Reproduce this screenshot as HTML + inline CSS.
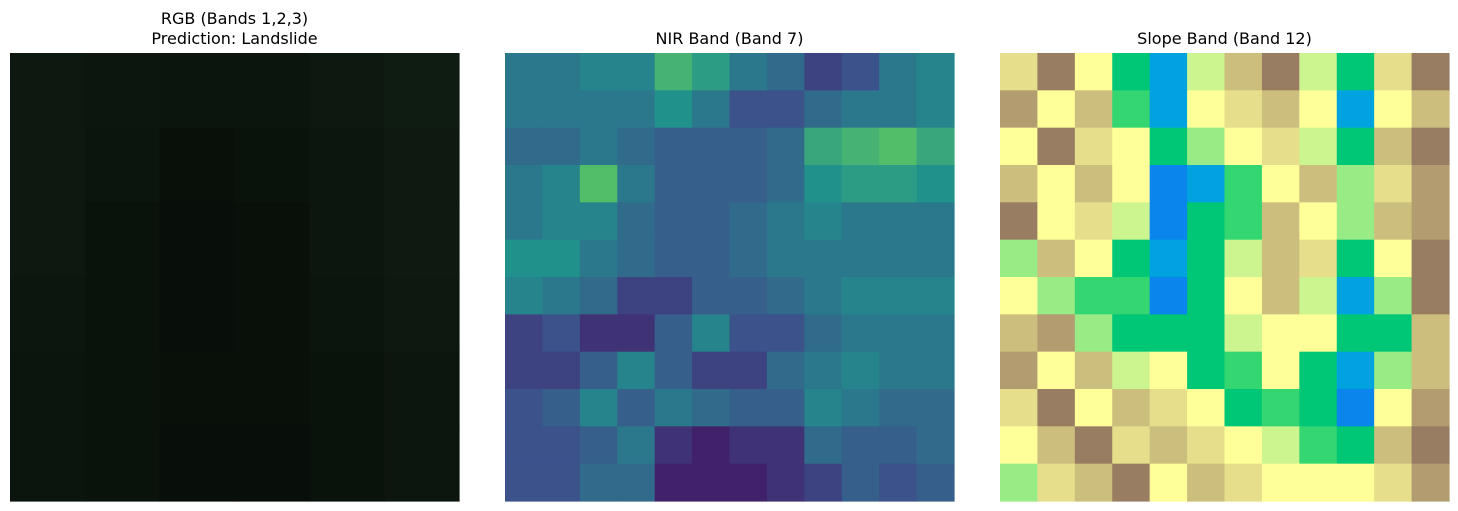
<!DOCTYPE html>
<html><head><meta charset="utf-8"><style>
body{margin:0;background:#fff;width:1458px;height:511px;overflow:hidden;font-family:"DejaVu Sans","Liberation Sans",sans-serif;}
svg{display:block}
</style></head><body>
<svg id="fig" width="1458" height="511">
<text x="234.5" y="24" font-size="16" text-anchor="middle" fill="#000">RGB (Bands 1,2,3)</text>
<text x="234.5" y="44" font-size="16" text-anchor="middle" fill="#000">Prediction: Landslide</text>
<text x="729.5" y="44" font-size="16" text-anchor="middle" fill="#000">NIR Band (Band 7)</text>
<text x="1224.5" y="44" font-size="16" text-anchor="middle" fill="#000">Slope Band (Band 12)</text>
<g id="p1"></g>
<g id="p2"></g>
<g id="p3"></g>
</svg>
<script>
const rgbValues=[
[0.12,0.11,0.10,0.10,0.12,0.14],
[0.12,0.10,0.08,0.09,0.11,0.13],
[0.12,0.09,0.07,0.08,0.11,0.13],
[0.11,0.09,0.07,0.08,0.10,0.12],
[0.10,0.09,0.08,0.08,0.09,0.11],
[0.10,0.09,0.07,0.07,0.09,0.11]];
const nirValues=[
[0.40,0.40,0.45,0.45,0.65,0.55,0.40,0.35,0.20,0.25,0.40,0.45],
[0.40,0.40,0.40,0.40,0.50,0.40,0.25,0.25,0.35,0.40,0.40,0.45],
[0.35,0.35,0.40,0.35,0.30,0.30,0.30,0.35,0.60,0.65,0.70,0.60],
[0.40,0.45,0.70,0.40,0.30,0.30,0.30,0.35,0.50,0.55,0.55,0.50],
[0.40,0.45,0.45,0.35,0.30,0.30,0.35,0.40,0.45,0.40,0.40,0.40],
[0.50,0.50,0.40,0.35,0.30,0.30,0.35,0.40,0.40,0.40,0.40,0.40],
[0.45,0.40,0.35,0.20,0.20,0.30,0.30,0.35,0.40,0.45,0.45,0.45],
[0.20,0.25,0.15,0.15,0.30,0.45,0.25,0.25,0.35,0.40,0.40,0.40],
[0.20,0.20,0.30,0.45,0.30,0.20,0.20,0.35,0.40,0.45,0.40,0.40],
[0.25,0.30,0.45,0.30,0.40,0.35,0.30,0.30,0.45,0.40,0.35,0.35],
[0.25,0.25,0.30,0.40,0.15,0.10,0.15,0.15,0.35,0.30,0.30,0.35],
[0.25,0.25,0.35,0.35,0.10,0.10,0.10,0.15,0.20,0.30,0.25,0.30]];
const slopeValues=[
[0.55,0.70,0.50,0.24,0.17,0.45,0.60,0.70,0.45,0.24,0.55,0.70],
[0.65,0.50,0.60,0.30,0.17,0.50,0.55,0.60,0.50,0.17,0.50,0.60],
[0.50,0.70,0.55,0.50,0.24,0.40,0.50,0.55,0.45,0.24,0.60,0.70],
[0.60,0.50,0.60,0.50,0.12,0.17,0.30,0.50,0.60,0.40,0.55,0.65],
[0.70,0.50,0.55,0.45,0.12,0.24,0.30,0.60,0.50,0.40,0.60,0.65],
[0.40,0.60,0.50,0.24,0.17,0.24,0.45,0.60,0.55,0.24,0.50,0.70],
[0.50,0.40,0.30,0.30,0.12,0.24,0.50,0.60,0.45,0.17,0.40,0.70],
[0.60,0.65,0.40,0.24,0.24,0.24,0.45,0.50,0.50,0.24,0.24,0.60],
[0.65,0.50,0.60,0.45,0.50,0.24,0.30,0.50,0.24,0.17,0.40,0.60],
[0.55,0.70,0.50,0.60,0.55,0.50,0.24,0.30,0.24,0.12,0.50,0.65],
[0.50,0.60,0.70,0.55,0.60,0.55,0.50,0.45,0.30,0.24,0.60,0.70],
[0.40,0.55,0.60,0.70,0.50,0.60,0.55,0.50,0.50,0.50,0.55,0.65]];

function interp(stops,v){v=Math.max(0,Math.min(1,v));
for(let i=1;i<stops.length;i++){if(v<=stops[i][0]){const a=stops[i-1],b=stops[i],t=(v-a[0])/(b[0]-a[0]||1);
return 'rgb('+[1,2,3].map(k=>Math.round(a[k]+(b[k]-a[k])*t)).join(',')+')';}}
const l=stops[stops.length-1];return 'rgb('+l[1]+','+l[2]+','+l[3]+')';}
const viridis=[[0,68,1,84],[0.25,59,82,139],[0.5,33,145,140],[0.75,94,201,98],[1,253,231,37]];
const terrain=[[0,51,51,153],[0.15,0,153,255],[0.25,0,204,102],[0.5,255,255,153],[0.75,128,92,84],[1,255,255,255]];
const rgbCmap=v=>'rgb('+Math.round(v*110)+','+Math.round(v*200)+','+Math.round(v*130)+')';
const NS='http://www.w3.org/2000/svg';
function draw(id,grid,cmap,x0,y0,w,h){
const g=document.getElementById(id);const rows=grid.length,cols=grid[0].length;
const cw=w/cols,ch=h/rows;
grid.forEach((row,r)=>row.forEach((v,c)=>{
const el=document.createElementNS(NS,'rect');
el.setAttribute('x',x0+c*cw);el.setAttribute('y',y0+r*ch);
el.setAttribute('width',cw+0.6);el.setAttribute('height',ch+0.6);
el.setAttribute('fill',cmap(v));


g.appendChild(el);}));}
draw('p1',rgbValues,rgbCmap,10,53,449,448);
draw('p2',nirValues,v=>interp(viridis,v),505,53,449,448);
draw('p3',slopeValues,v=>interp(terrain,v),1000,53,449,448);
</script>
</body></html>
